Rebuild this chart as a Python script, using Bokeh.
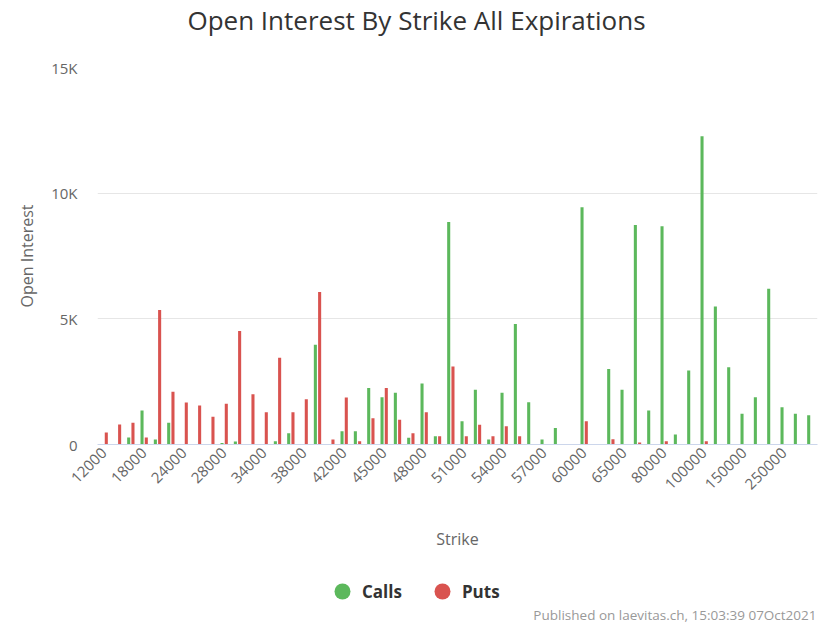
from math import pi
from bokeh.plotting import figure
from bokeh.layouts import column
from bokeh.models import (ColumnDataSource, Range1d, FixedTicker, Legend, LegendItem, Label)
from bokeh.transform import dodge
from bokeh.embed import file_html
from bokeh.resources import INLINE

strikes = ["12000", "14000", "16000", "18000", "20000", "22000", "24000", "25000", "26000",
           "28000", "30000", "32000", "34000", "35000", "36000", "38000", "40000", "41000",
           "42000", "43000", "44000", "45000", "46000", "47000", "48000", "49000", "50000",
           "51000", "52000", "53000", "54000", "55000", "56000", "57000", "58000", "59000",
           "60000", "62000", "64000", "65000", "70000", "75000", "80000", "85000", "90000",
           "100000", "120000", "140000", "150000", "160000", "200000", "250000", "300000", "400000"]
calls = [0, 0, 280, 1350, 200, 870, 0, 0, 0, 60, 120, 0, 0, 130, 450, 0, 3970, 0,
         530, 530, 2250, 1880, 2060, 270, 2430, 330, 8850, 930, 2180, 200, 2060, 4790, 1680, 200,
         660, 0, 9440, 0, 3000, 2180, 8730, 1350, 8680, 400, 2940, 12260, 5490, 3070, 1220, 1880,
         6200, 1480, 1220, 1160]
puts = [480, 800, 870, 280, 5350, 2100, 1670, 1550, 1100, 1620, 4520, 2000, 1280, 3450, 1280, 1800,
        6070, 200, 1870, 130, 1040, 2250, 980, 450, 1280, 330, 3100, 330, 790, 330, 730, 330, 0, 0,
        0, 0, 930, 0, 210, 0, 80, 0, 130, 0, 0, 130, 0, 0, 0, 0, 0, 0, 0, 0]
y_ticks = [0, 5000, 10000, 15000]
y_tick_labels = ["0", "5K", "10K", "15K"]

FONT = "Open Sans"
GREEN = "#5cb85c"
RED = "#d9534f"
W = 832
BL, BR = 97, 15   # left / right borders shared by all strips


def strip(height):
    f = figure(width=W, height=height, output_backend="svg", toolbar_location=None,
               x_range=Range1d(0, 1), y_range=Range1d(0, 1), x_axis_type=None, y_axis_type=None,
               min_border_left=BL, min_border_right=BR, min_border_top=0, min_border_bottom=0)
    f.outline_line_color = None
    f.xgrid.grid_line_color = None
    f.ygrid.grid_line_color = None
    return f


# title strip
t = strip(48)
t.add_layout(Label(x=319, y=29, x_units="screen", y_units="screen",
                   text="Open Interest By Strike All Expirations", text_align="center",
                   text_baseline="middle", text_font=FONT, text_font_size="26px",
                   text_color="#333333"))

# main chart
idx = list(range(len(strikes)))
src = ColumnDataSource(dict(idx=idx, strike=strikes, calls=calls, puts=puts))

p = figure(width=W, height=518, output_backend="svg", toolbar_location=None,
           x_range=Range1d(-0.5, len(strikes) - 0.5), y_range=Range1d(0, 15000),
           min_border_left=BL, min_border_right=BR, min_border_top=19, min_border_bottom=122)
p.outline_line_color = None
p.background_fill_color = "white"
p.border_fill_color = "white"

p.vbar(x=dodge("idx", -0.16, range=p.x_range), top="calls", width=0.23, source=src,
       fill_color=GREEN, line_color=None)
p.vbar(x=dodge("idx", 0.16, range=p.x_range), top="puts", width=0.23, source=src,
       fill_color=RED, line_color=None)

xa = p.xaxis[0]
xa.ticker = FixedTicker(ticks=idx[::3])
xa.major_label_overrides = {i: strikes[i] for i in idx[::3]}
xa.major_label_orientation = pi / 4
xa.major_label_text_font = FONT
xa.major_label_text_font_size = "15px"
xa.major_label_text_color = "#666666"
xa.major_label_standoff = 6
xa.major_tick_line_color = None
xa.major_tick_out = 0
xa.major_tick_in = 0
xa.minor_tick_line_color = None
xa.axis_line_color = "#ccd6eb"
xa.axis_label = "Strike"
xa.axis_label_text_font = FONT
xa.axis_label_text_font_size = "16px"
xa.axis_label_text_font_style = "normal"
xa.axis_label_text_color = "#666666"
xa.axis_label_standoff = 31

ya = p.yaxis[0]
ya.ticker = FixedTicker(ticks=y_ticks)
ya.major_label_overrides = dict(zip(y_ticks, y_tick_labels))
ya.major_label_text_font = FONT
ya.major_label_text_font_size = "15px"
ya.major_label_text_color = "#666666"
ya.major_label_standoff = 20
ya.major_tick_line_color = None
ya.major_tick_out = 0
ya.major_tick_in = 0
ya.minor_tick_line_color = None
ya.axis_line_color = None
ya.axis_label = "Open Interest"
ya.axis_label_text_font = FONT
ya.axis_label_text_font_size = "16px"
ya.axis_label_text_font_style = "normal"
ya.axis_label_text_color = "#666666"
ya.axis_label_standoff = 10

p.xgrid.grid_line_color = None
p.ygrid.grid_line_color = "#e6e6e6"
p.ygrid.ticker = FixedTicker(ticks=y_ticks)

# legend + footer strip
q = strip(58)
nan = float("nan")
lc = q.scatter(x=[nan], y=[nan], marker="circle", fill_color=GREEN, line_color=None)
lp = q.scatter(x=[nan], y=[nan], marker="circle", fill_color=RED, line_color=None)
legend = Legend(items=[LegendItem(label="Calls", renderers=[lc]),
                       LegendItem(label="Puts", renderers=[lp])],
                location=(225, 13), orientation="horizontal",
                glyph_width=40, glyph_height=40, label_standoff=0, spacing=20,
                padding=0, margin=0, border_line_color=None, background_fill_alpha=0,
                label_text_font=FONT, label_text_font_size="17px", label_text_font_style="bold",
                label_text_color="#333333", label_text_baseline="middle")
q.add_layout(legend, "center")
q.add_layout(Label(x=719, y=10, x_units="screen", y_units="screen",
                   text="Published on laevitas.ch, 15:03:39 07Oct2021", text_align="right",
                   text_baseline="middle", text_font=FONT, text_font_size="13.5px",
                   text_color="#999999"))

open("out.html", "w").write(file_html(column(t, p, q, spacing=0), INLINE))
